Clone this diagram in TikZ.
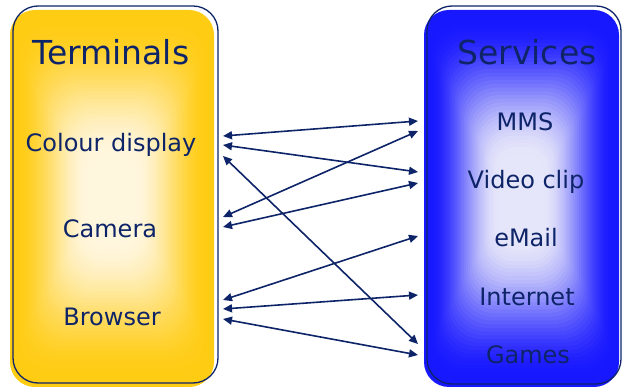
\documentclass[tikz,border=0pt]{standalone}
\usepackage{fontspec}
\setmainfont{DejaVu Sans}
\usetikzlibrary{arrows.meta}
\definecolor{navy}{RGB}{14,36,104}
\definecolor{termyellow}{RGB}{255,204,20}
\definecolor{termcentre}{RGB}{255,246,222}
\definecolor{servblue}{RGB}{24,24,255}
\definecolor{servcentre}{RGB}{230,230,250}
% #1,#2 centre, #3,#4 half sizes, #5 edge colour, #6 centre colour
\newcommand{\glowbox}[6]{%
  \foreach \i in {0,...,50}{
    \pgfmathsetmacro\s{1-\i/51}
    \pgfmathsetmacro\u{max(0,min(1,(\i/51-0.05)/0.72))}
    \pgfmathsetmacro\p{100*(1-\u*\u*(3-2*\u))}
    \pgfmathsetmacro\r{\s*(25+(\i/51)*(#3-25))}
    \fill[#5!\p!#6, rounded corners=\r pt] ({#1-#3*\s},{#2-#4*\s}) rectangle ({#1+#3*\s},{#2+#4*\s});
  }}

\begin{document}
\begin{tikzpicture}[x=1pt,y=-1pt,
    title/.style={text=navy, anchor=base, font=\fontsize{33}{38}\selectfont},
    item/.style={text=navy, anchor=base, font=\fontsize{24}{28}\selectfont},
    frame/.style={draw=navy, line width=1.3pt, rounded corners=25pt},
    link/.style={navy, line width=1.6pt, {Triangle[length=9pt,width=8pt]}-{Triangle[length=9pt,width=8pt]}}]
    \useasboundingbox (0,0) rectangle (623,387);
    % the two boxes
    \glowbox{112}{198.5}{102}{188.5}{termyellow}{termcentre}
    \draw[frame] (13,6) rectangle (218,383);
    \glowbox{521.5}{198.5}{97.5}{188.5}{servblue}{servcentre}
    \draw[frame] (427,6) rectangle (621,384);
    % texts
    \node[title] (terminals) at (111,65) {Terminals};
    \node[item] (colour) at (111,152) {Colour display};
    \node[item] (camera) at (110,237) {Camera};
    \node[item] (browser) at (112,325) {Browser};
    \node[title] (services) at (527,65) {Services};
    \node[item] (mms) at (525,131) {MMS};
    \node[item] (video) at (526,189) {Video clip};
    \node[item] (email) at (526,247) {eMail};
    \node[item] (internet) at (527,305) {Internet};
    \node[item] (games) at (528,363) {Games};
    % ends of the links
    \coordinate (colour-1) at (223,136);
    \coordinate (colour-2) at (223,145);
    \coordinate (colour-3) at (223,156);
    \coordinate (camera-1) at (223,217);
    \coordinate (camera-2) at (223,227);
    \coordinate (browser-1) at (223,300);
    \coordinate (browser-2) at (223,309);
    \coordinate (browser-3) at (223,319);
    \coordinate (mms-1) at (418,121);
    \coordinate (mms-2) at (418,131);
    \coordinate (video-1) at (418,172);
    \coordinate (video-2) at (418,183);
    \coordinate (email-1) at (418,236);
    \coordinate (internet-1) at (418,295);
    \coordinate (games-1) at (418,344);
    \coordinate (games-2) at (418,355);
    % links
    \draw[link] (colour-1) -- (mms-1);
    \draw[link] (colour-2) -- (video-1);
    \draw[link] (colour-3) -- (games-1);
    \draw[link] (camera-1) -- (mms-2);
    \draw[link] (camera-2) -- (video-2);
    \draw[link] (browser-1) -- (email-1);
    \draw[link] (browser-2) -- (internet-1);
    \draw[link] (browser-3) -- (games-2);
\end{tikzpicture}
\end{document}
